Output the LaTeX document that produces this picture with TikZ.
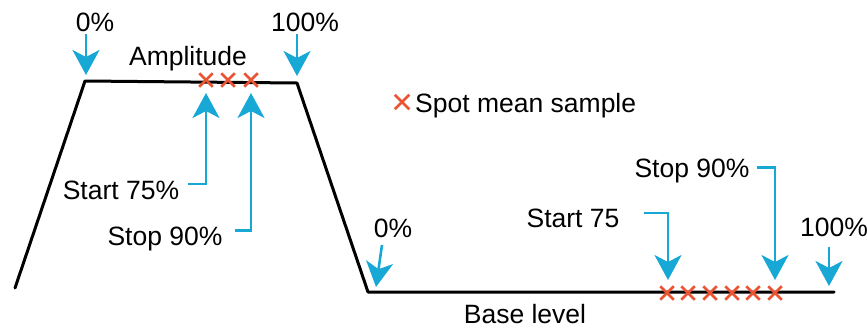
\documentclass[tikz,border=0pt]{standalone}
\usepackage{fontspec}
\setmainfont{Liberation Sans}
\usetikzlibrary{arrows.meta, shapes.misc}
\definecolor{trigblue}{RGB}{24,168,214}
\definecolor{smplred}{RGB}{234,84,50}

\begin{document}
\begin{tikzpicture}[x=1pt, y=-1pt,
  wave/.style={draw=black, line width=3pt, line join=round, line cap=round},
  ptr/.style={draw=trigblue, line width=2.6pt, -{Stealth[length=25pt, width=27pt, inset=7pt]}},
  smpl/.style={cross out, draw=smplred, line width=2.5pt, minimum size=11pt, inner sep=0pt},
  lbl/.style={anchor=base, inner sep=3pt, font=\fontsize{26.5}{30}\selectfont}
]
\useasboundingbox (0,0) rectangle (867,327);

% waveform corners
\coordinate (w0) at (15,288);
\coordinate (w1) at (85,81);
\coordinate (w2) at (297,83);
\coordinate (w3) at (368,292);
\coordinate (w4) at (834,292);
\draw[wave] (w0) -- (w1) -- (w2) -- (w3) -- (w4);

% sample marks
\foreach \x [count=\i] in {206,228,251}
  \node[smpl] (ta\i) at (\x,80) {};
\foreach \x [count=\i] in {667,688,710,732,753,775}
  \node[smpl] (tb\i) at (\x,293) {};

% labels
\node[lbl] (hiStart) at (95,31) {0\%};
\node[lbl] (hiStop) at (305,31) {100\%};
\node[lbl] (ampl) at (188,65) {Amplitude};
\node[lbl] (hiS75) at (121,199) {Start 75\%};
\node[lbl] (hiS90) at (165,245) {Stop 90\%};
\node[lbl] (loStart) at (393,237) {0\%};
\node[lbl] (loS90) at (692,177) {Stop 90\%};
\node[lbl] (loS75) at (573,227) {Start 75};
\node[lbl] (loStop) at (834,236) {100\%};
\node[lbl] (base) at (525,323) {Base level};

% legend
\node[smpl, minimum size=12pt] (key) at (402,102) {};
\node[lbl, anchor=base west] (keytxt) at (412,112) {Spot mean sample};

% arrow ends
\coordinate (pA) at (86,75);
\coordinate (pB) at (297,76);
\coordinate (pC) at (206,93);
\coordinate (pD) at (251,93);
\coordinate (qA0) at (382,245);
\coordinate (qA) at (376,287);
\coordinate (qB) at (668,280);
\coordinate (qC) at (775,280);
\coordinate (qD0) at (829,247);
\coordinate (qD) at (829,286);

\draw[ptr] (hiStart.south -| pA) -- (pA);
\draw[ptr] (hiStop.south -| pB) -- (pB);
\draw[ptr] ([xshift=6pt, yshift=6pt]hiS75.east) -| (pC);
\draw[ptr] ([xshift=9pt, yshift=8pt]hiS90.east) -| (pD);
\draw[ptr] (qA0) -- (qA);
\draw[ptr] ([xshift=21pt, yshift=5pt]loS75.east) -| (qB);
\draw[ptr] ([xshift=4pt, yshift=3pt]loS90.east) -| (qC);
\draw[ptr] (qD0) -- (qD);

\end{tikzpicture}
\end{document}
